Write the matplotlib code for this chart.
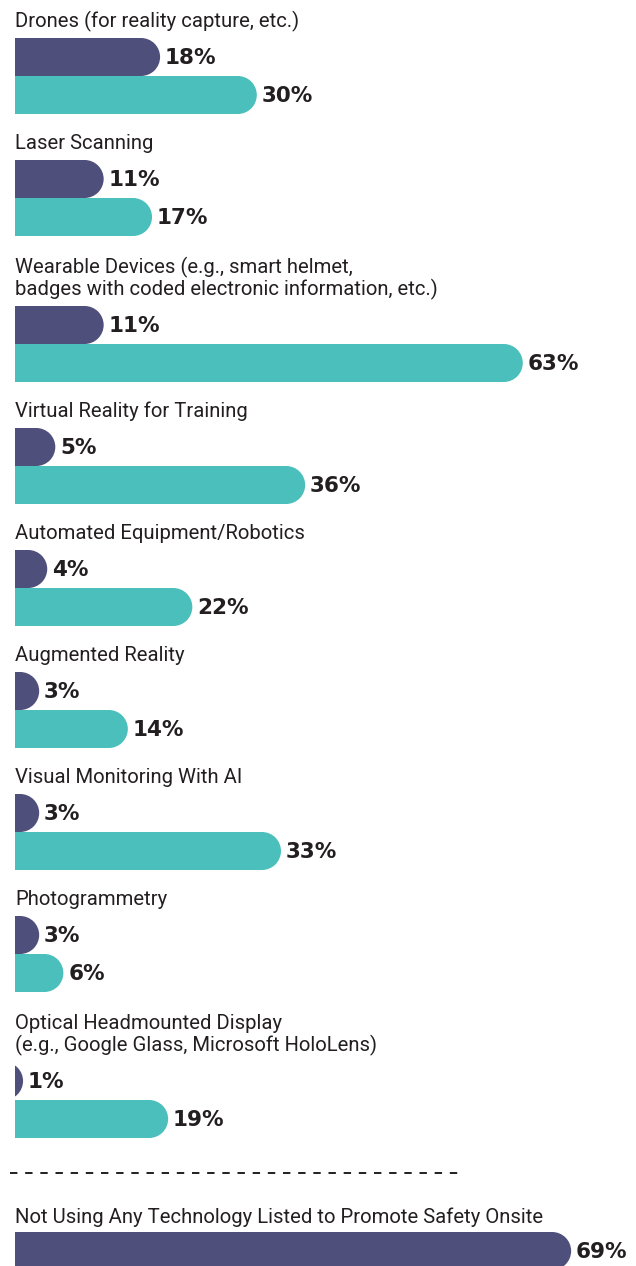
import matplotlib
matplotlib.use("Agg")
from matplotlib import pyplot as plt
from matplotlib.patches import Ellipse, Rectangle

# data
categories = [
    "Drones (for reality capture, etc.)",
    "Laser Scanning",
    "Wearable Devices (e.g., smart helmet,\nbadges with coded electronic information, etc.)",
    "Virtual Reality for Training",
    "Automated Equipment/Robotics",
    "Augmented Reality",
    "Visual Monitoring With AI",
    "Photogrammetry",
    "Optical Headmounted Display\n(e.g., Google Glass, Microsoft HoloLens)",
]
dark_vals = [18, 11, 11, 5, 4, 3, 3, 3, 1]
teal_vals = [30, 17, 63, 36, 22, 14, 33, 6, 19]
none_label = "Not Using Any Technology Listed to Promote Safety Onsite"
none_val = 69

DARK = "#4f4f7c"
TEAL = "#4bbfbb"
TXT = "#231f20"

W, H = 636, 1266
x0 = 15          # left edge of bars in px
px_per = 8.06    # px per percent
bar_h = 38       # px
r = (bar_h / 2) / px_per   # end radius in percent units

label_font = ["Roboto", "DejaVu Sans"]

fig = plt.figure(figsize=(W / 100, H / 100), dpi=100)
ax = fig.add_axes([x0 / W, 0, (W - x0) / W, 1])
ax.set_xlim(0, (W - x0) / px_per)
ax.set_ylim(H, 0)
ax.axis("off")


def rounded_bar(val, yc, color):
    body = max(val - r, 0)
    if body > 0:
        ax.add_patch(Rectangle((0, yc - bar_h / 2), body, bar_h, color=color, lw=0))
    ax.add_patch(Ellipse((val - r, yc), 2 * r, bar_h, color=color, lw=0))
    ax.annotate(f"{val}%", (val, yc + 7.5), xytext=(3.5, 0), textcoords="offset points",
                ha="left", va="baseline", fontsize=15.5, fontweight="bold",
                color=TXT, family="DejaVu Sans", annotation_clip=False)


# layout: dark-bar centre of each group
y = 57
line_gap = 22
for i, (cat, d, t) in enumerate(zip(categories, dark_vals, teal_vals)):
    nlines = cat.count("\n") + 1
    if i > 0:
        y += 122 + 24 * (nlines - 1)
    lines = cat.split("\n")
    for k, ln in enumerate(lines):
        base = y - 30 - line_gap * (nlines - 1 - k)
        ax.text(0, base, ln, ha="left", va="baseline", fontsize=14.6,
                color=TXT, family=label_font, clip_on=False)
    rounded_bar(d, y, DARK)
    rounded_bar(t, y + bar_h, TEAL)

# separator
ax.plot([-5 / px_per, (460 - x0) / px_per], [1173, 1173], color=TXT, lw=1.4,
        dashes=(3.8, 4.0), clip_on=False)

ax.text(0, 1223, none_label, ha="left", va="baseline", fontsize=14.6,
        color=TXT, family=label_font, clip_on=False)
rounded_bar(none_val, 1251, DARK)

fig.savefig("out.png", dpi=100)
